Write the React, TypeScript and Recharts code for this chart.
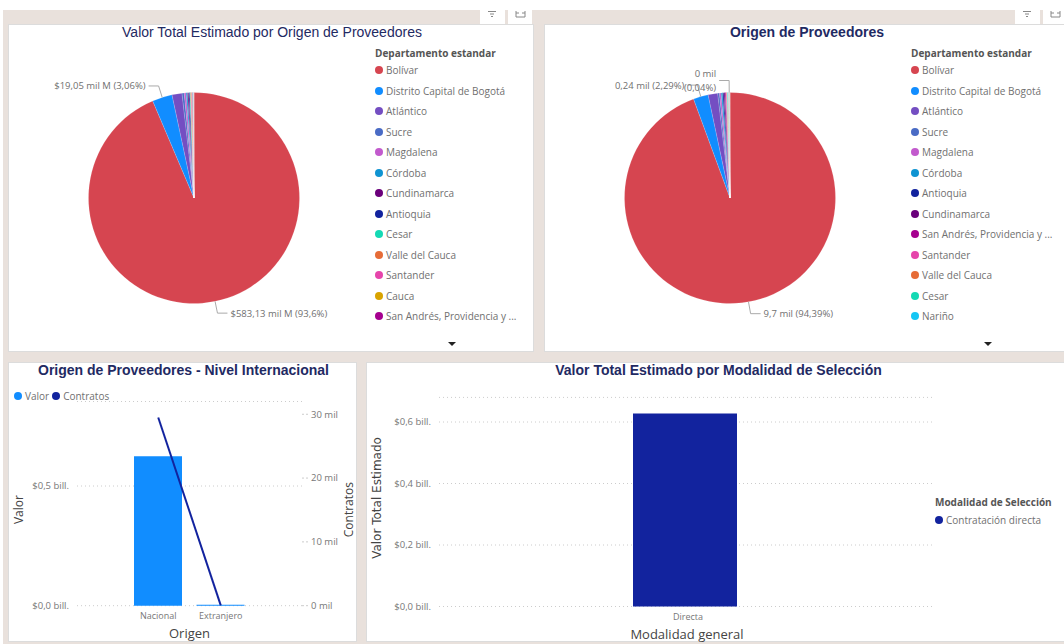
import {
  Bar,
  BarChart,
  CartesianGrid,
  Cell,
  ComposedChart,
  Line,
  Pie,
  PieChart,
  XAxis,
  YAxis,
} from "recharts";

// Valor Total Estimado (miles de millones) por departamento
const valorDepartamentos = [
  "Bolívar", "Distrito Capital de Bogotá", "Atlántico", "Sucre", "Magdalena", "Córdoba",
  "Cundinamarca", "Antioquia", "Cesar", "Valle del Cauca", "Santander", "Cauca",
  "San Andrés, Providencia y ...", "Nariño", "Tolima", "Boyacá", "La Guajira", "Risaralda",
];
const valorMontos = [583.13, 19.05, 9.5, 2.1, 1.8, 1.3, 1.1, 1.0, 0.7, 0.6, 0.55, 0.5, 0.45, 0.4, 0.3, 0.25, 0.17, 0.1];
const valorEtiquetas: Record<string, string[]> = {
  "Bolívar": ["$583,13 mil M (93,6%)"],
  "Distrito Capital de Bogotá": ["$19,05 mil M (3,06%)"],
};

// Numero de proveedores por departamento
const origenDepartamentos = [
  "Bolívar", "Distrito Capital de Bogotá", "Atlántico", "Sucre", "Magdalena", "Córdoba",
  "Antioquia", "Cundinamarca", "San Andrés, Providencia y ...", "Santander", "Valle del Cauca", "Cesar",
  "Nariño", "Cauca", "Tolima", "Boyacá", "La Guajira", "Risaralda", "Caldas", "Huila", "Meta",
];
const origenMontos = [9700, 235, 150, 28, 26, 22, 20, 18, 14, 10, 9, 8, 7, 6, 5, 5, 4, 3, 3, 2, 2];
const origenEtiquetas: Record<string, string[]> = {
  "Bolívar": ["9,7 mil (94,39%)"],
  "Distrito Capital de Bogotá": ["0,24 mil (2,29%)"],
  "La Guajira": ["0 mil", "(0,04%)"],
};

const coloresDepartamento: Record<string, string> = {
  "Bolívar": "#D64550",
  "Distrito Capital de Bogotá": "#118DFF",
  "Atlántico": "#744EC2",
  "Sucre": "#4A6BC5",
  "Magdalena": "#C25ACD",
  "Córdoba": "#0F94D2",
  "Cundinamarca": "#6B007B",
  "Antioquia": "#12239E",
  "Cesar": "#14D9B4",
  "Valle del Cauca": "#E66C37",
  "Santander": "#E645AB",
  "Cauca": "#D9A300",
  "San Andrés, Providencia y ...": "#A6008F",
  "Nariño": "#15C6F4",
  "Tolima": "#A66999",
  "Boyacá": "#8AD4EB",
  "La Guajira": "#D9B3A3",
  "Risaralda": "#B887AD",
  "Caldas": "#5F6B6D",
  "Huila": "#01B8AA",
  "Meta": "#A0B0B5",
};

const origenCategorias = ["Nacional", "Extranjero"];
const origenValor = [0.624, 0.004];
const origenContratos = [29.5, 0.05];
const origenTicksValor = [0, 0.5];
const origenTicksContratos = [0, 10, 20, 30];

const modalidadCategorias = ["Directa"];
const modalidadValor = [0.628];
const modalidadTicks = [0, 0.2, 0.4, 0.6];

const AZUL_VALOR = "#118DFF";
const AZUL_OSCURO = "#12239E";
const TITULO = "#1F2A63";
const GRIS_TEXTO = "#707070";
const GRIS_TICK = "#777777";
const FUENTE = "'Open Sans', sans-serif";

const billones = (v: number) => `$${v.toFixed(1).replace(".", ",")} bill.`;

function pieLabel(etiquetas: Record<string, string[]>) {
  return (props: any) => {
    const lines = etiquetas[props.name];
    if (!lines) return null;
    const rad = (-props.midAngle * Math.PI) / 180;
    const { cx, cy, outerRadius } = props;
    const side = Math.cos(rad) >= 0 && lines.length === 1 ? 1 : -1;
    const r2 = outerRadius + 12;
    const x1 = cx + outerRadius * Math.cos(rad);
    const y1 = cy + outerRadius * Math.sin(rad);
    const x2 = cx + r2 * Math.cos(rad);
    const y2 = cy + r2 * Math.sin(rad);
    const x3 = x2 + side * 10;
    return (
      <g>
        <polyline points={`${x1},${y1} ${x2},${y2} ${x3},${y2}`} fill="none" stroke="#aaaaaa" strokeWidth={1} />
        <text
          x={x3 + side * 3}
          y={y2 + 3.5 - (lines.length - 1) * 7}
          textAnchor={side > 0 ? "start" : "end"}
          fontSize={9.5}
          fontFamily={FUENTE}
          fill={GRIS_TEXTO}
        >
          {lines.map((line, i) => (
            <tspan key={line} x={x3 + side * 3} dy={i === 0 ? 0 : 14}>
              {line}
            </tspan>
          ))}
        </text>
      </g>
    );
  };
}

function Dot({ color }: { color: string }) {
  return (
    <span
      style={{
        display: "inline-block",
        width: 8,
        height: 8,
        borderRadius: "50%",
        background: color,
        marginRight: 3,
        flex: "none",
      }}
    />
  );
}

function Panel({ left, top, width, height, title, titleCenter, titleStyle, children }: any) {
  return (
    <div
      style={{
        position: "absolute",
        left,
        top,
        width,
        height,
        background: "#ffffff",
        boxShadow: "inset 0 0 0 1px #dcdcdc",
      }}
    >
      <div
        style={{
          position: "absolute",
          left: titleCenter,
          top: 0,
          transform: "translateX(-50%)",
          whiteSpace: "nowrap",
          fontFamily: "'Liberation Sans', sans-serif",
          fontSize: 14,
          lineHeight: "16px",
          color: TITULO,
          ...titleStyle,
        }}
      >
        {title}
      </div>
      {children}
    </div>
  );
}

function DeptLegend({ names }: { names: string[] }) {
  return (
    <div style={{ position: "absolute", left: 367, top: 22, fontFamily: FUENTE, fontSize: 10, color: GRIS_TEXTO }}>
      <div style={{ fontWeight: 700, height: 14, lineHeight: "14px", color: "#555555" }}>
        Departamento estandar
      </div>
      {names.slice(0, 13).map((name) => (
        <div key={name} style={{ display: "flex", alignItems: "center", height: 20.5, whiteSpace: "nowrap" }}>
          <Dot color={coloresDepartamento[name]} />
          {name}
        </div>
      ))}
      <div style={{ position: "absolute", left: 73, top: 296, width: 0, height: 0, borderLeft: "4px solid transparent", borderRight: "4px solid transparent", borderTop: "4px solid #222222" }} />
    </div>
  );
}

function DeptPie({ names, values, etiquetas }: { names: string[]; values: number[]; etiquetas: Record<string, string[]> }) {
  const data = names.map((name, i) => ({ name, value: values[i] }));
  return (
    <PieChart
      width={366}
      height={328}
      margin={{ top: 0, right: 0, bottom: 0, left: 0 }}
      style={{ position: "absolute", left: 0, top: 0 }}
    >
      <Pie
        data={data}
        dataKey="value"
        nameKey="name"
        cx={186}
        cy={174}
        innerRadius={0}
        outerRadius={105.5}
        startAngle={90}
        endAngle={-270}
        stroke="#ffffff"
        strokeWidth={0.15}
        label={pieLabel(etiquetas)}
        labelLine={false}
        isAnimationActive={false}
      >
        {data.map((d) => (
          <Cell key={d.name} fill={coloresDepartamento[d.name]} />
        ))}
      </Pie>
    </PieChart>
  );
}

function VisualIcons({ left }: { left: number }) {
  const tab = (x: number, w: number, icon: any) => (
    <div style={{ position: "absolute", left: x, top: 0, width: w, height: 14, background: "#ffffff" }}>
      <svg width={w} height={14} style={{ display: "block" }}>
        {icon}
      </svg>
    </div>
  );
  return (
    <div style={{ position: "absolute", left, top: 10 }}>
      {tab(0, 25, <path d="M8 1.5h8M10 4h4M11 6.5h2" stroke="#888888" strokeWidth={1} fill="none" />)}
      {tab(28, 24, <path d="M8 1v6h9V1M8 3h3M14 3h3" stroke="#888888" strokeWidth={1} fill="none" />)}
    </div>
  );
}

function OrigenChart() {
  const data = origenCategorias.map((name, i) => ({ name, valor: origenValor[i], contratos: origenContratos[i] }));
  const tick = { fontSize: 9.5, fill: GRIS_TICK, fontFamily: FUENTE };
  const titulo = { fontSize: 12, fill: "#444444", fontFamily: FUENTE };
  return (
    <ComposedChart
      width={349}
      height={280}
      data={data}
      margin={{ top: 39.5, right: 0, bottom: 6.3, left: 0 }}
      style={{ position: "absolute", left: 0, top: 0 }}
    >
      <CartesianGrid vertical={false} yAxisId="valor" stroke="#cccccc" strokeDasharray="1 3" />
      <XAxis
        dataKey="name"
        height={30}
        axisLine={false}
        tickLine={false}
        tickMargin={1}
        padding={{ left: 50, right: 50 }}
        tick={{ ...tick, fontSize: 9 }}
        label={{ value: "Origen", position: "insideBottom", offset: -2, style: { ...titulo, fontSize: 13 } }}
      />
      <YAxis
        yAxisId="valor"
        width={69}
        domain={[0, 0.853]}
        ticks={origenTicksValor}
        tickFormatter={billones}
        axisLine={false}
        tickLine={false}
        tick={tick}
        label={{ value: "Valor", angle: -90, position: "center", dx: -23.5, dy: 6, style: titulo }}
      />
      <YAxis
        yAxisId="contratos"
        orientation="right"
        width={55}
        domain={[0, 32]}
        ticks={origenTicksContratos}
        tickFormatter={(v: number) => `${v} mil`}
        axisLine={false}
        tickLine={{ stroke: "#cccccc", strokeDasharray: "2 2" }}
        tickSize={6}
        tickMargin={3}
        tick={tick}
        label={{ value: "Contratos", angle: -90, position: "center", dx: 19.5, dy: 6, style: titulo }}
      />
      <Bar yAxisId="valor" dataKey="valor" fill={AZUL_VALOR} barSize={48} isAnimationActive={false} />
      <Line
        yAxisId="contratos"
        dataKey="contratos"
        stroke={AZUL_OSCURO}
        strokeWidth={2}
        dot={false}
        isAnimationActive={false}
      />
    </ComposedChart>
  );
}

function ModalidadChart() {
  const data = modalidadCategorias.map((name, i) => ({ name, valor: modalidadValor[i] }));
  const tick = { fontSize: 9.5, fill: GRIS_TICK, fontFamily: FUENTE };
  return (
    <BarChart
      width={698}
      height={280}
      data={data}
      margin={{ top: 35.4, right: 129, bottom: 5.5, left: 0 }}
      style={{ position: "absolute", left: 0, top: 0 }}
    >
      <CartesianGrid vertical={false} stroke="#cccccc" strokeDasharray="1 3" />
      <XAxis
        dataKey="name"
        height={30}
        axisLine={false}
        tickLine={false}
        tickMargin={1}
        padding={{ left: 0, right: 4 }}
        tick={{ ...tick, fontSize: 9, dx: 3 }}
        label={{ value: "Modalidad general", position: "insideBottom", offset: -2, style: { fontSize: 13, fill: "#444444", fontFamily: FUENTE } }}
      />
      <YAxis
        width={73}
        domain={[0, 0.68]}
        ticks={modalidadTicks}
        tickFormatter={billones}
        axisLine={false}
        tickLine={false}
        tick={tick}
        label={{ value: "Valor Total Estimado", angle: -90, position: "center", dx: -25.5, dy: -4, style: { fontSize: 12, fill: "#444444", fontFamily: "'DejaVu Sans', sans-serif" } }}
      />
      <Bar dataKey="valor" fill={AZUL_OSCURO} barSize={104} isAnimationActive={false} />
    </BarChart>
  );
}

export default function App() {
  return (
    <div style={{ position: "absolute", left: 0, top: 0, width: 1064, height: 644, overflow: "hidden", background: "#ffffff" }}>
      <div style={{ position: "absolute", left: 3, top: 10, right: 0, bottom: 0, background: "#E9E1DC" }} />
      <VisualIcons left={480} />
      <VisualIcons left={1015} />

      <Panel left={8} top={24} width={526} height={328} title="Valor Total Estimado por Origen de Proveedores" titleCenter={264}>
        <DeptPie names={valorDepartamentos} values={valorMontos} etiquetas={valorEtiquetas} />
        <DeptLegend names={valorDepartamentos} />
      </Panel>

      <Panel left={544} top={24} width={530} height={328} title="Origen de Proveedores" titleCenter={263} titleStyle={{ fontWeight: 700 }}>
        <DeptPie names={origenDepartamentos} values={origenMontos} etiquetas={origenEtiquetas} />
        <DeptLegend names={origenDepartamentos} />
      </Panel>

      <Panel left={8} top={362} width={349} height={280} title="Origen de Proveedores - Nivel Internacional" titleCenter={175.5} titleStyle={{ fontWeight: 700 }}>
        <OrigenChart />
        <div style={{ position: "absolute", left: 6, top: 27, display: "flex", alignItems: "center", fontFamily: FUENTE, fontSize: 10, color: GRIS_TEXTO }}>
          <Dot color={AZUL_VALOR} />
          <span style={{ marginRight: 3 }}>Valor</span>
          <Dot color={AZUL_OSCURO} />
          <span>Contratos</span>
        </div>
      </Panel>

      <Panel left={366} top={362} width={704} height={280} title="Valor Total Estimado por Modalidad de Selección" titleCenter={352.5} titleStyle={{ fontWeight: 700 }}>
        <ModalidadChart />
        <div style={{ position: "absolute", left: 569, top: 133, fontFamily: FUENTE, fontSize: 10, color: GRIS_TEXTO, whiteSpace: "nowrap" }}>
          <div style={{ fontWeight: 700, height: 14, lineHeight: "14px", marginBottom: 4, color: "#555555" }}>
            Modalidad de Selección
          </div>
          <div style={{ display: "flex", alignItems: "center" }}>
            <Dot color={AZUL_OSCURO} />
            Contratación directa
          </div>
        </div>
      </Panel>
    </div>
  );
}
